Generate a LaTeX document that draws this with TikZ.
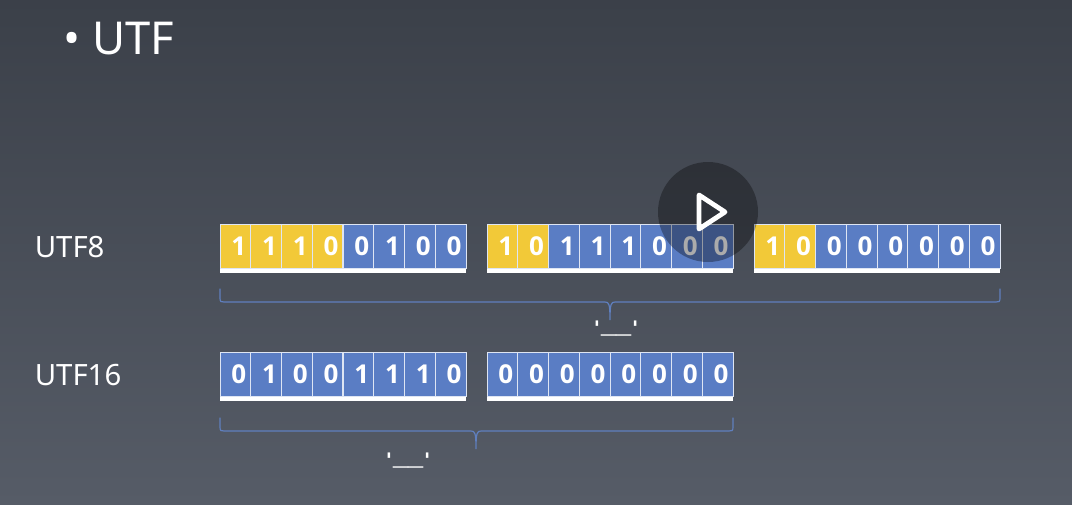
\documentclass[tikz,border=0pt]{standalone}
\usepackage{fontspec}
\setmainfont{Noto Sans}
\newfontfamily\bitfont{Open Sans}
\newfontfamily\quotfont{DejaVu Sans}
\definecolor{bgtop}{HTML}{3B4049}
\definecolor{bgbot}{HTML}{565C67}
\definecolor{ybit}{HTML}{F2C938}
\definecolor{bbit}{HTML}{5A7DC4}
\definecolor{brc}{HTML}{5F7FBE}
\tikzset{
  x=0.75pt,y=-0.75pt,
  lab/.style={text=white,font=\fontsize{22}{24}\selectfont,inner sep=0pt,anchor=west},
  bit/.style={minimum width=23.06pt,minimum height=33.5pt,inner sep=0pt,anchor=north west,draw=white!80!bbit,line width=0.75pt,text=white,font=\bitfont\bfseries\fontsize{19.5}{20}\selectfont},
  ybox/.style={bit,fill=ybit},
  bbox/.style={bit,fill=bbit},
  strip/.style={fill=white,draw=none,minimum width=184.5pt,minimum height=3.8pt,inner sep=0pt,anchor=north west},
  brace/.style={draw=brc,line width=0.9pt,line cap=round},
  quot/.style={text=white,font=\quotfont\fontsize{15}{16}\selectfont,inner sep=0pt,xscale=1.5},
}
% #1 name, #2 left x, #3 top y, #4 number of yellow bits, #5 bit list
\newcommand{\bitrow}[5]{%
  \node[strip] (#1s) at (#2-0.5,#3+44.5) {};
  \foreach \b [count=\i from 0] in {#5} {
    \pgfmathsetmacro{\xx}{#2-0.5+30.75*\i}
    \ifnum\i<#4\relax
      \node[ybox] (#1c\i) at (\xx,#3) {\hspace*{5pt}\b};
    \else
      \node[bbox] (#1c\i) at (\xx,#3) {\hspace*{5pt}\b};
    \fi
  }%
}
\newcommand{\bracepath}[4]{% left, right, mid, top y
  \coordinate (bl#4) at (#1,#4);
  \coordinate (br#4) at (#2,#4);
  \coordinate (bm#4) at (#3,#4+31);
  \draw[brace] (bl#4) -- (#1,#4+9) .. controls (#1,#4+13) and (#1+1,#4+13) .. (#1+4,#4+13)
    -- (#3-5,#4+13) .. controls (#3-1,#4+13) and (#3,#4+15) .. (bm#4)
    .. controls (#3,#4+15) and (#3+1,#4+13) .. (#3+5,#4+13)
    -- (#2-4,#4+13) .. controls (#2-1,#4+13) and (#2,#4+13) .. (#2,#4+9) -- (br#4);
}
\newcommand{\quotetext}{\textquotesingle\raisebox{3pt}{\_\_}\textquotesingle}
\begin{document}
\begin{tikzpicture}
\useasboundingbox (0,0) rectangle (1072,504);
\shade[top color=bgtop,bottom color=bgbot] (0,0) rectangle (1072,504);

\node[text=white,font=\fontsize{34}{38}\selectfont,inner sep=0pt,anchor=west] (title) at (63,39) {• UTF};
\node[lab] (u8) at (34.5,247) {UTF8};
\node[lab] (u16) at (34.5,375) {UTF16};

\bitrow{a}{220}{223.5}{4}{1,1,1,0,0,1,0,0}
\bitrow{b}{487}{223.5}{2}{1,0,1,1,1,0,0,0}
\bitrow{c}{754}{223.5}{2}{1,0,0,0,0,0,0,0}
\bitrow{d}{220}{351.5}{0}{0,1,0,0,1,1,1,0}
\bitrow{e}{487}{351.5}{0}{0,0,0,0,0,0,0,0}

\bracepath{220}{1000}{610}{289}
\bracepath{220}{733}{476}{418}

\node[quot] (q1) at (616,329) {\quotetext};
\node[quot] (q2) at (408,461) {\quotetext};

\node[circle,fill=black,fill opacity=0.33,minimum size=75pt,inner sep=0pt] (play) at (708,212) {};
\draw[white,line width=3.6pt,line join=round] (699,195) -- (725,212) -- (699,229) -- cycle;
\end{tikzpicture}
\end{document}
